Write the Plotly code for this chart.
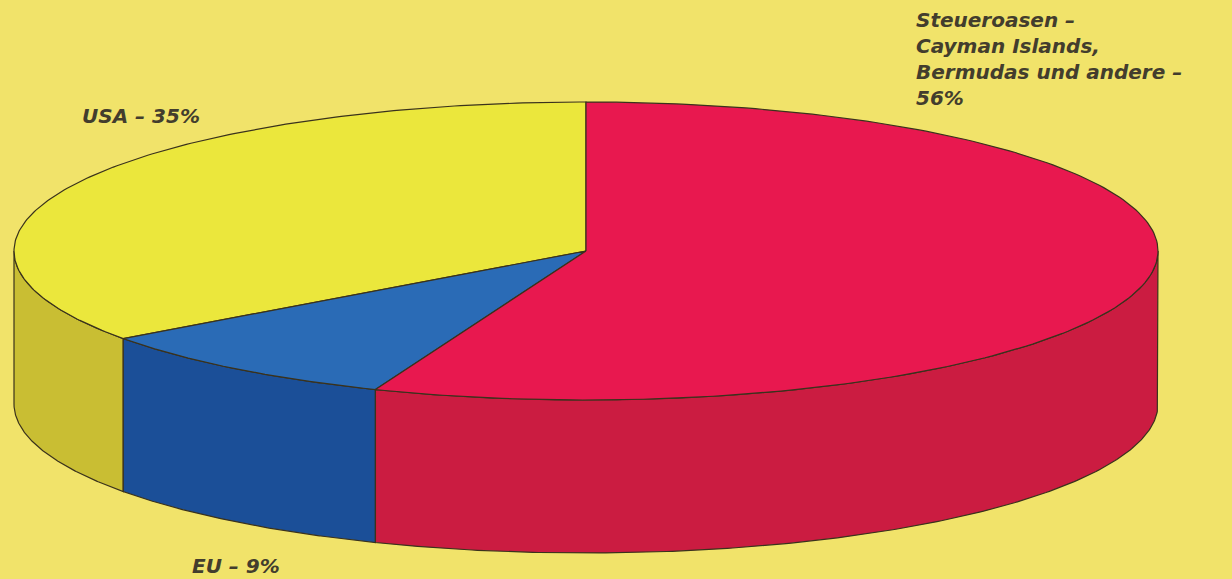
import numpy as np
import plotly.graph_objects as go

# ---- data ----
categories = ["USA", "EU", "Steueroasen"]
shares = [35, 9, 56]
label_texts = [
    "USA – 35%",
    "EU – 9%",
    "Steueroasen –<br>Cayman Islands,<br>Bermudas und andere –<br>56%",
]
top_colors = ["#EBE73C", "#2A6BB6", "#E8184F"]
side_colors = ["#C9BE33", "#1B4F98", "#CB1C41"]

# ---- geometry (layout constants) ----
W, H = 1232, 579
cx, cy, rx, ry, depth = 586, 251, 572, 149, 153
start_angle = 90.0
bg = "#F1E36A"
edge = "#3A321C"


def arc(a, b, dz=0.0, n=200):
    t = np.radians(np.linspace(a, b, n))
    return cx + rx * np.cos(t), cy - ry * np.sin(t) + dz


fig = go.Figure()

# slice angle ranges from data
ranges = []
a = start_angle
for s in shares:
    b = a + s / 100.0 * 360.0
    ranges.append((a, b))
    a = b

# visible front sides (angles 180..360)
for (a, b), col in zip(ranges, side_colors):
    for off in (0, 360):
        lo, hi = max(a - off, 180), min(b - off, 360)
        if hi > lo:
            xt, yt = arc(lo, hi)
            xb, yb = arc(hi, lo, depth)
            xs = np.concatenate([xt, xb, xt[:1]])
            ys = np.concatenate([yt, yb, yt[:1]])
            fig.add_trace(go.Scatter(x=xs, y=ys, mode="lines", fill="toself",
                                     fillcolor=col, line=dict(color=edge, width=1.2),
                                     hoverinfo="skip", showlegend=False))

# top wedges
for (a, b), col, name in zip(ranges, top_colors, categories):
    xa, ya = arc(a, b)
    xs = np.concatenate([[cx], xa, [cx]])
    ys = np.concatenate([[cy], ya, [cy]])
    fig.add_trace(go.Scatter(x=xs, y=ys, mode="lines", fill="toself",
                             fillcolor=col, line=dict(color=edge, width=1.2),
                             name=name, hoverinfo="skip", showlegend=False))

font = dict(family="DejaVu Sans", size=20, color="#433D2D", weight="bold", style="italic")
fig.add_annotation(x=80, y=116, text=label_texts[0], showarrow=False,
                   xanchor="left", yanchor="middle", font=font)
fig.add_annotation(x=190, y=566, text=label_texts[1], showarrow=False,
                   xanchor="left", yanchor="middle", font=font)
fig.add_annotation(x=914, y=6, text=label_texts[2], showarrow=False,
                   xanchor="left", yanchor="top", align="left", font=font)

fig.update_layout(
    width=W, height=H, margin=dict(l=0, r=0, t=0, b=0),
    paper_bgcolor=bg, plot_bgcolor=bg,
    xaxis=dict(range=[0, W], visible=False, fixedrange=True),
    yaxis=dict(range=[H, 0], visible=False, fixedrange=True),
    showlegend=False,
)
fig.write_html("out.html")
